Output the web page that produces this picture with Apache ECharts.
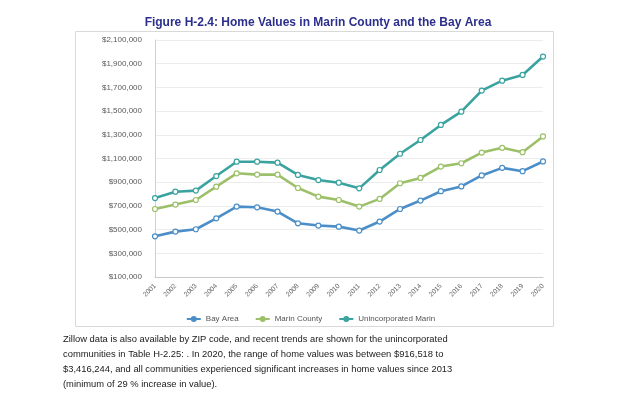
<!DOCTYPE html>
<html>
<head>
<meta charset="utf-8">
<script src="https://cdn.jsdelivr.net/npm/echarts@6/dist/echarts.min.js"></script>
<style>
  html, body { margin: 0; padding: 0; background: #fff; }
  #chart { width: 621px; height: 410px; }
</style>
</head>
<body>
<div id="chart"></div>
<script>
// data
const years = ['2001', '2002', '2003', '2004', '2005', '2006', '2007', '2008', '2009', '2010',
  '2011', '2012', '2013', '2014', '2015', '2016', '2017', '2018', '2019', '2020']
const bayArea = [443000, 483000, 503000, 595000, 694000, 688000, 652000, 553000, 534000, 525000,
  492000, 568000, 674000, 745000, 824000, 864000, 957000, 1021000, 993000, 1075000]
const marinCounty = [674000, 711000, 750000, 862000, 975000, 964000, 964000, 851000, 778000, 750000,
  694000, 759000, 891000, 936000, 1032000, 1060000, 1150000, 1190000, 1153000, 1286000]
const unincMarin = [766000, 820000, 829000, 952000, 1073000, 1073000, 1065000, 961000, 918000, 896000,
  848000, 1003000, 1140000, 1256000, 1383000, 1495000, 1673000, 1757000, 1805000, 1960000]
const yTicks = [100000, 300000, 500000, 700000, 900000, 1100000, 1300000, 1500000, 1700000, 1900000, 2100000]

const paragraph = [
  'Zillow data is also available by ZIP code, and recent trends are shown for the unincorporated',
  'communities in Table H-2.25: . In 2020, the range of home values was between $916,518 to',
  '$3,416,244, and all communities experienced significant increases in home values since 2013',
  '(minimum of 29 % increase in value).'
]

const font = '"Liberation Sans", Arial, sans-serif'
const chart = echarts.init(document.getElementById('chart'))

function line(name, data, color) {
  return {
    name, type: 'line', data,
    symbol: 'circle', symbolSize: 5, showSymbol: true,
    lineStyle: { color, width: 2.6 },
    itemStyle: { color: '#fff', borderColor: color, borderWidth: 1.2 }
  }
}

chart.setOption({
  animation: false,
  textStyle: { fontFamily: font },
  title: {
    text: 'Figure H-2.4: Home Values in Marin County and the Bay Area',
    left: 313, top: 12, textAlign: 'center',
    textStyle: { fontSize: 12, fontWeight: 'bold', color: '#2c2f8c', fontFamily: font }
  },
  legend: {
    top: 310, left: 'center', itemGap: 16, itemWidth: 14, itemHeight: 5,
    textStyle: { fontSize: 8, color: '#555' },
    data: [
      { name: 'Bay Area', itemStyle: { color: '#4b8ec8' } },
      { name: 'Marin County', itemStyle: { color: '#9cc069' } },
      { name: 'Unincorporated Marin', itemStyle: { color: '#3aa39f' } }
    ]
  },
  grid: { left: 155, right: 78, top: 40, bottom: 133 },
  xAxis: {
    type: 'category', data: years, boundaryGap: false,
    axisLine: { lineStyle: { color: '#c8c8c8' } },
    axisTick: { show: false },
    axisLabel: { rotate: 45, fontSize: 6.8, color: '#666', margin: 8 }
  },
  yAxis: {
    type: 'value', min: 100000, max: 2100000,
    axisLine: { show: true, lineStyle: { color: '#d0d0d0' } },
    axisTick: { show: false, customValues: yTicks },
    axisLabel: {
      customValues: yTicks, fontSize: 8, color: '#5a5a5a', margin: 13,
      formatter: v => '$' + v.toLocaleString('en-US')
    },
    splitLine: { lineStyle: { color: '#ececec' } }
  },
  graphic: [
    { type: 'rect', shape: { x: 75.5, y: 31.5, width: 478, height: 295 },
      style: { fill: null, stroke: '#d9d9d9', lineWidth: 1 }, z: -1 },
    ...paragraph.map((t, i) => ({
      type: 'text', left: 63, top: 335 + i * 15,
      style: { text: t, font: '9.4px ' + font, fill: '#1a1a1a' }
    }))
  ],
  series: [
    line('Bay Area', bayArea, '#4b8ec8'),
    line('Marin County', marinCounty, '#9cc069'),
    line('Unincorporated Marin', unincMarin, '#3aa39f')
  ]
})
</script>
</body>
</html>
